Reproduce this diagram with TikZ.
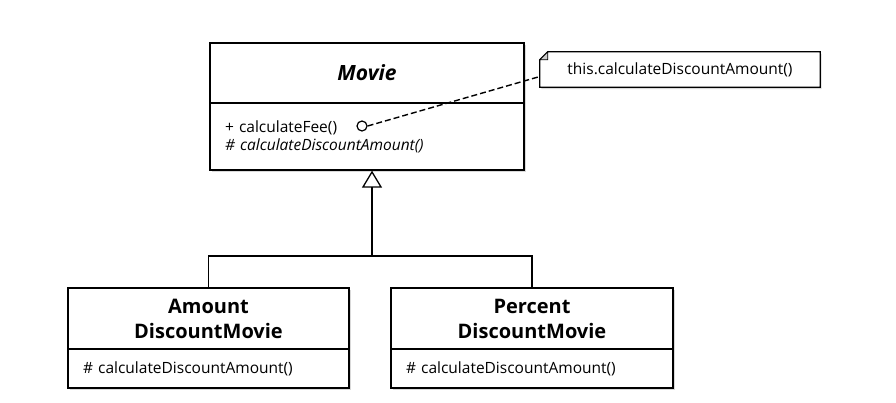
\documentclass[tikz,border=0pt]{standalone}
\usepackage{fontspec}
\setmainfont{Open Sans}
\usetikzlibrary{shadows,arrows.meta,calc}

\begin{document}
\begin{tikzpicture}[
x=1pt,y=-1pt,
classbox/.style={
draw,
line width=1.3pt,
fill=white,
inner sep=0pt,
drop shadow={opacity=0.3,shadow xshift=1.5pt,shadow yshift=-2pt}
},
classname/.style={
classbox,
align=center,
font=\fontsize{20}{25}\selectfont\bfseries
},
classops/.style={
classbox,
align=left,
inner xsep=15pt,
font=\fontsize{15.5}{18}\selectfont
},
inherit/.style={
line width=1.3pt,
-{Triangle[open,length=17pt,width=20pt,line width=1.3pt]}
}
]
\useasboundingbox (0,0) rectangle (896,402);

% superclass
\node[classname,minimum width=314pt,minimum height=60pt] (movieName) at (367,73)
{\fontsize{21}{25}\selectfont\itshape Movie};

\node[classops,minimum width=314pt,minimum height=67pt,
text width=284pt] (movieOps) at (367,136.5)
{+ calculateFee()\\\itshape \# calculateDiscountAmount()};

\node[draw,circle,line width=1.2pt,inner sep=0pt,minimum size=10pt] (port) at (362,126) {};

% note
\node[minimum width=280pt,minimum height=35pt,inner sep=0pt] (note) at (680,69.5) {};
\path[draw,line width=1.3pt,fill=white,
drop shadow={opacity=0.3,shadow xshift=1.5pt,shadow yshift=-2pt}]
($(note.north west)+(8,0)$) -- (note.north east) -- (note.south east)
-- (note.south west) -- ($(note.north west)+(0,8)$) -- cycle;
\path[draw,line width=0.8pt,fill=gray!40]
($(note.north west)+(8,0)$) -- ($(note.north west)+(0,8)$)
-- ($(note.north west)+(8,8)$) -- cycle;
\node[font=\fontsize{15.5}{18}\selectfont] (noteText) at (note.center)
{this.calculateDiscountAmount()};

\coordinate (noteEnd) at ($(note.west)+(0,7)$);
\draw[dash pattern=on 6pt off 3pt,line width=1.4pt] (port.east) -- (noteEnd);

% subclasses
\node[classname,minimum width=281pt,minimum height=61pt] (amountName) at (208.5,318.5)
{Amount\\DiscountMovie};
\node[classops,minimum width=281pt,minimum height=39pt,
text width=251pt] (amountOps) at (208.5,368.5)
{\# calculateDiscountAmount()};

\node[classname,minimum width=282pt,minimum height=61pt] (percentName) at (532,318.5)
{Percent\\DiscountMovie};
\node[classops,minimum width=282pt,minimum height=39pt,
text width=252pt] (percentOps) at (532,368.5)
{\# calculateDiscountAmount()};

% generalization
\coordinate (joint) at (372,256);
\draw[line width=1.3pt] (amountName.north) |- (joint) -| (percentName.north);
\draw[inherit] (joint) -- (movieOps.south -| joint);

\end{tikzpicture}
\end{document}
